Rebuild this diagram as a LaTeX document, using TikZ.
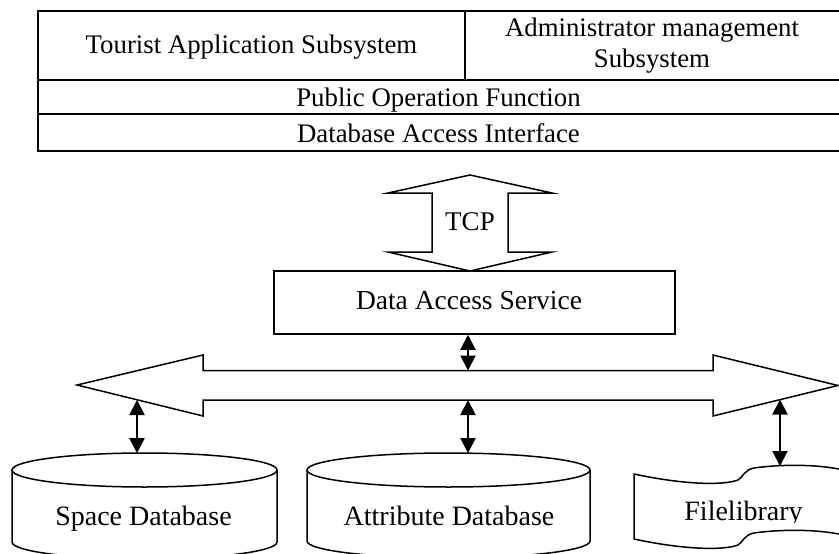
\documentclass[tikz,border=0pt]{standalone}
\usepackage{fontspec}
\setmainfont{Liberation Serif}
\usetikzlibrary{arrows.meta}
\begin{document}
\begin{tikzpicture}[x=1pt, y=-1pt,
  outline/.style={draw=black, line width=1.5pt, line join=miter, fill=white},
  grid/.style={draw=black, line width=2.2pt},
  link/.style={draw=black, line width=2pt,
    {Triangle[width=15pt,length=15pt]}-{Triangle[width=15pt,length=15pt]}},
  tablefont/.style={font=\fontsize{26.8}{31}\selectfont},
  bigfont/.style={font=\fontsize{28}{32}\selectfont},
  lbl/.style={inner sep=0pt, anchor=base}
]
\useasboundingbox (0,0) rectangle (839,554);
\begin{scope}
\clip (0,0) rectangle (839,554);

% layered table of the application side
\draw[grid] (38,11) rectangle (870,151);
\draw[grid] (38,80) -- (870,80);
\draw[grid] (38,114) -- (870,114);
\draw[grid] (465,11) -- (465,80);
\node[lbl, tablefont] (tourist) at (251.5,53) {Tourist Application Subsystem};
\node[lbl, tablefont] (admin1) at (652,36) {Administrator management};
\node[lbl, tablefont] (admin2) at (652,67) {Subsystem};
\node[lbl, tablefont] (pof) at (438.5,106) {Public Operation Function};
\node[lbl, tablefont] (dai) at (438.5,142) {Database Access Interface};

% TCP double arrow
\draw[outline] (470,175) -- (552,193) -- (508,193) -- (508,252) -- (552,252)
  -- (470,271) -- (388,252) -- (432,252) -- (432,193) -- (388,193) -- cycle;
\node[lbl, font=\fontsize{27}{31}\selectfont] (tcp) at (470,230) {TCP};

% data access service
\node[draw=black, line width=1.5pt, minimum width=401pt, minimum height=63pt,
  inner sep=0pt] (das) at (474.5,302.5) {};
\node[lbl, font=\fontsize{27.5}{31}\selectfont] (dastext) at (469,309) {Data Access Service};

% bus: wide double arrow
\draw[outline] (77,385) -- (203,355) -- (203,370.5) -- (713,370.5) -- (713,355)
  -- (838,385.5) -- (713,416) -- (713,400) -- (203,400) -- (203,416) -- cycle;
\coordinate (busTop) at (468,370.5);
\coordinate (busL) at (137,400);
\coordinate (busM) at (468,400);
\coordinate (busR) at (780,399.5);

% space database cylinder
\draw[outline] (12,470) -- (12,542) arc[start angle=180, end angle=0, x radius=132.5, y radius=17]
  -- (277,470);
\draw[outline] (144.5,470) ellipse[x radius=132.5, y radius=17];
\coordinate (spaceTop) at (137,453.2);
\node[lbl, bigfont] (space) at (143.5,525) {Space Database};

% attribute database cylinder
\draw[outline] (307,470) -- (307,541) arc[start angle=180, end angle=0, x radius=141.5, y radius=17]
  -- (590,470);
\draw[outline] (448.5,470) ellipse[x radius=141.5, y radius=17];
\coordinate (attrTop) at (468,453.1);
\node[lbl, bigfont] (attr) at (449,525) {Attribute Database};

% file library (punched tape)
\draw[outline] (634,474) .. controls (680,484) and (722,486) .. (738,480)
  .. controls (743,477) and (744,470) .. (754,468)
  .. controls (790,463) and (835,465) .. (856,474)
  -- (856,539)
  .. controls (835,530) and (790,528) .. (754,533)
  .. controls (744,535) and (743,542) .. (738,545)
  .. controls (722,551) and (680,549) .. (634,539) -- cycle;
\coordinate (fileTop) at (780,466);
\begin{scope}
  \clip (660,480) rectangle (830,522);
  \node[lbl, bigfont] (files) at (743.5,520) {Filelibrary};
\end{scope}

% links
\draw[link] (das.south -| busTop) -- (busTop);
\draw[link] (busL) -- (spaceTop);
\draw[link] (busM) -- (attrTop);
\draw[link] (busR) -- (fileTop);
\end{scope}
\end{tikzpicture}
\end{document}
